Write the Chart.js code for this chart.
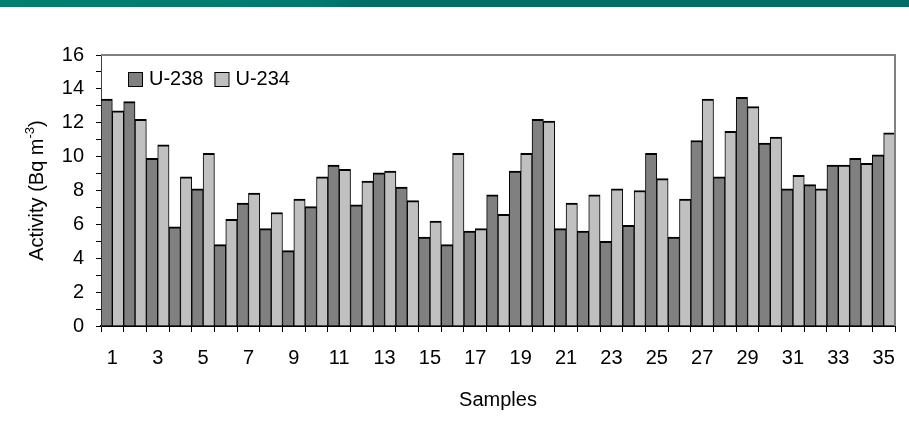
<!DOCTYPE html>
<html>
<head>
<meta charset="utf-8">
<title>Uranium activity</title>
<script src="https://cdn.jsdelivr.net/npm/chart.js@4/dist/chart.umd.min.js"></script>
<style>
  html, body { margin: 0; padding: 0; background: #fff; }
  #wrap { position: relative; width: 909px; height: 441px; }
</style>
</head>
<body>
<div id="wrap"><canvas id="myChart"></canvas></div>
<script>
// sample numbers along the x axis
var samples = ["1", "2", "3", "4", "5", "6", "7", "8", "9", "10",
  "11", "12", "13", "14", "15", "16", "17", "18", "19", "20",
  "21", "22", "23", "24", "25", "26", "27", "28", "29", "30",
  "31", "32", "33", "34", "35"];

// activity in Bq m-3
var u238 = [13.4, 13.25, 9.9, 5.85, 8.1, 4.8, 7.25, 5.75, 4.45, 7.05,
  9.5, 7.15, 9.05, 8.2, 5.25, 4.8, 5.6, 7.75, 9.15, 12.2,
  5.75, 5.6, 5.0, 5.95, 10.2, 5.25, 10.95, 8.8, 13.5, 10.8,
  8.1, 8.35, 9.5, 9.9, 10.1];
var u234 = [12.7, 12.2, 10.7, 8.8, 10.2, 6.3, 7.85, 6.7, 7.5, 8.8,
  9.25, 8.55, 9.15, 7.4, 6.2, 10.2, 5.75, 6.6, 10.2, 12.1,
  7.25, 7.75, 8.1, 8.0, 8.7, 7.5, 13.4, 11.5, 12.95, 11.15,
  8.9, 8.1, 9.5, 9.6, 11.4];

var FONT = "'Liberation Sans', Arial, sans-serif";

// teal strip along the top edge
var topBand = {
  id: "topBand",
  beforeDraw: function (chart) {
    var ctx = chart.ctx;
    var g = ctx.createLinearGradient(0, 0, 909, 0);
    g.addColorStop(0, "#00806f");
    g.addColorStop(0.35, "#007a70");
    g.addColorStop(0.4, "#006e67");
    g.addColorStop(1, "#006e67");
    ctx.save();
    ctx.fillStyle = g;
    ctx.fillRect(0, 0, chart.width, 7);
    ctx.restore();
  },
};

// gray frame on top/right, rotated y title with superscript, legend inside the plot
var extras = {
  id: "extras",
  afterDraw: function (chart) {
    var ctx = chart.ctx;
    var a = chart.chartArea;
    ctx.save();
    ctx.strokeStyle = "#808080";
    ctx.lineWidth = 2;
    ctx.beginPath();
    ctx.moveTo(a.left, a.top);
    ctx.lineTo(a.right, a.top);
    ctx.lineTo(a.right, a.bottom);
    ctx.stroke();

    // y title
    ctx.fillStyle = "#000";
    ctx.translate(37, (a.top + a.bottom) / 2);
    ctx.rotate(-Math.PI / 2);
    ctx.font = "20px " + FONT;
    var main = "Activity (Bq m";
    ctx.font = "13px " + FONT;
    var sup = "-3";
    var wSup = ctx.measureText(sup).width;
    ctx.font = "20px " + FONT;
    var wMain = ctx.measureText(main).width;
    var wClose = ctx.measureText(")").width;
    var x0 = -(wMain + wSup + wClose) / 2;
    ctx.textBaseline = "middle";
    ctx.textAlign = "left";
    ctx.fillText(main, x0, 0);
    ctx.font = "13px " + FONT;
    ctx.fillText(sup, x0 + wMain, -7);
    ctx.font = "20px " + FONT;
    ctx.fillText(")", x0 + wMain + wSup, 0);
    ctx.restore();

    // legend
    ctx.save();
    ctx.font = "20px " + FONT;
    ctx.textBaseline = "middle";
    ctx.textAlign = "left";
    var x = 128;
    chart.data.datasets.forEach(function (ds) {
      ctx.fillStyle = ds.backgroundColor;
      ctx.fillRect(x, 72, 14, 14);
      ctx.strokeStyle = "#000";
      ctx.lineWidth = 1;
      ctx.strokeRect(x + 0.5, 72.5, 14, 14);
      ctx.fillStyle = "#000";
      ctx.fillText(ds.label, x + 21, 79);
      x += 21 + ctx.measureText(ds.label).width + 11;
    });
    ctx.restore();
  },
};

var ctx = document.getElementById("myChart").getContext("2d");
var myChart = new Chart(ctx, {
  type: "bar",
  data: {
    labels: samples,
    datasets: [
      {
        label: "U-238",
        data: u238,
        backgroundColor: "#808080",
        borderColor: "#000",
        borderWidth: { top: 2, left: 1, right: 1, bottom: 0 },
        borderSkipped: "bottom",
      },
      {
        label: "U-234",
        data: u234,
        backgroundColor: "#c0c0c0",
        borderColor: "#000",
        borderWidth: { top: 2, left: 1, right: 1, bottom: 0 },
        borderSkipped: "bottom",
      },
    ],
  },
  options: {
    responsive: true,
    maintainAspectRatio: false,
    animation: false,
    devicePixelRatio: 1,
    layout: { padding: { top: 55, right: 14, left: 0, bottom: 0 } },
    plugins: {
      legend: { display: false },
      tooltip: { enabled: false },
    },
    datasets: {
      bar: { categoryPercentage: 1.0, barPercentage: 1.0 },
    },
    scales: {
      x: {
        afterFit: function (scale) { scale.height = 115; },
        grid: {
          offset: true,
          drawOnChartArea: false,
          color: "#000",
          tickLength: 6,
        },
        border: { color: "#000", width: 2 },
        ticks: {
          autoSkip: false,
          maxRotation: 0,
          padding: 14,
          color: "#000",
          font: { family: FONT, size: 20 },
          callback: function (val, i) {
            return i % 2 === 0 ? this.getLabelForValue(val) : "";
          },
        },
        title: {
          display: true,
          text: "Samples",
          color: "#000",
          font: { family: FONT, size: 20 },
          padding: { top: 0, bottom: 29 },
        },
      },
      y: {
        min: 0,
        max: 16,
        afterFit: function (scale) { scale.width = 101; },
        grid: {
          drawOnChartArea: false,
          color: "#000",
          tickLength: 5,
        },
        border: { color: "#404040", width: 1 },
        ticks: {
          stepSize: 1,
          autoSkip: false,
          padding: 12,
          color: "#000",
          font: { family: FONT, size: 20 },
          callback: function (v) {
            return v % 2 === 0 ? v : "";
          },
        },
      },
    },
  },
  plugins: [topBand, extras],
});
</script>
</body>
</html>
